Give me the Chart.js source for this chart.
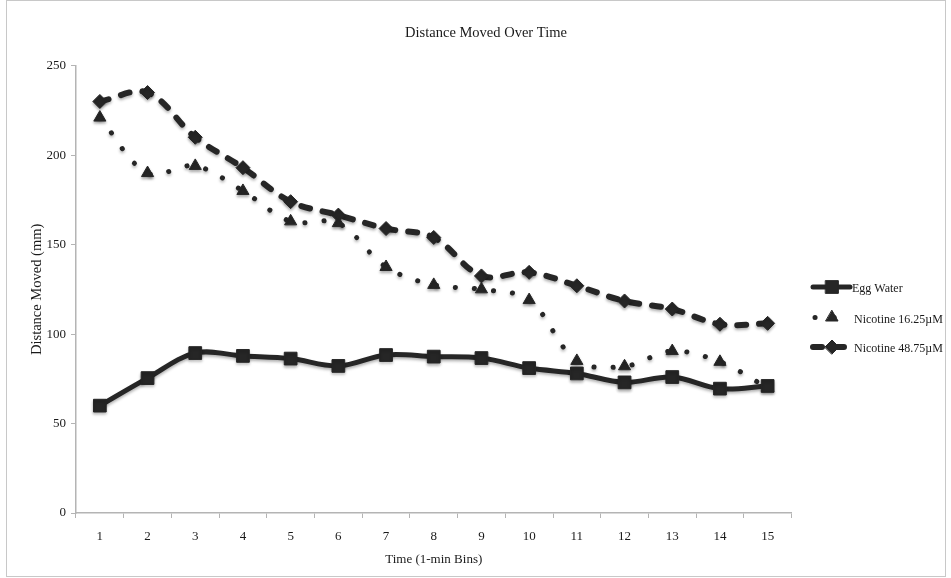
<!DOCTYPE html>
<html>
<head>
<meta charset="utf-8">
<title>Distance Moved Over Time</title>
<script src="https://cdn.jsdelivr.net/npm/chart.js@4.4.1/dist/chart.umd.min.js"></script>
<style>
    html, body { margin: 0; padding: 0; background: #ffffff; }
    #wrap { width: 951px; height: 578px; }
</style>
</head>
<body>
<div id="wrap"><canvas id="lineChart" width="951" height="578"></canvas></div>
<script>
// Data
const timeBins = ['1', '2', '3', '4', '5', '6', '7', '8', '9', '10', '11', '12', '13', '14', '15'];
const eggWater = [60, 75.4, 89.4, 87.8, 86.3, 82.2, 88.3, 87.4, 86.6, 81, 78, 73, 76, 69.5, 71];
const nicotineLow = [221, 190, 194, 180, 163, 162, 137.5, 127.5, 125, 119, 85, 82, 90.5, 84.5, 70];
const nicotineHigh = [230, 235, 210, 193, 174, 166.5, 159, 154, 132.5, 134.5, 127, 118.5, 114, 105.5, 106];
const yTicks = [0, 50, 100, 150, 200, 250];

const ink = '#262626';
const serif = "'Liberation Serif', 'Times New Roman', serif";

// Title, legend and frame drawn by hand so they sit where Excel put them
const decorPlugin = {
    id: 'decor',
    beforeDatasetsDraw(chart) {
        const ctx = chart.ctx;
        ctx.save();
        ctx.shadowColor = 'rgba(0, 0, 0, 0.3)';
        ctx.shadowBlur = 3;
        ctx.shadowOffsetY = 2;
    },
    afterDatasetsDraw(chart) {
        chart.ctx.restore();
    },
    afterDraw(chart) {
        const ctx = chart.ctx;
        ctx.save();

        // outer frame
        ctx.strokeStyle = '#c8c8c8';
        ctx.lineWidth = 1;
        ctx.strokeRect(6.5, 0.5, 939, 576);

        // title
        ctx.fillStyle = '#1a1a1a';
        ctx.font = '14.5px ' + serif;
        ctx.textAlign = 'center';
        ctx.textBaseline = 'middle';
        ctx.fillText('Distance Moved Over Time', 486, 33);

        // legend
        const rows = [287, 317.5, 347];
        chart.data.datasets.forEach((ds, i) => {
            const y = rows[i];
            ctx.save();
            ctx.strokeStyle = ds.borderColor;
            ctx.lineWidth = ds.borderWidth;
            ctx.lineCap = ds.borderCapStyle || 'butt';
            ctx.setLineDash(ds.borderDash || []);
            ctx.beginPath();
            ctx.moveTo(i === 1 ? 815 : 813, y);
            ctx.lineTo(850, y);
            ctx.stroke();
            ctx.setLineDash([]);
            ctx.fillStyle = ds.pointBackgroundColor;
            ctx.strokeStyle = ds.pointBorderColor;
            ctx.lineWidth = ds.pointBorderWidth;
            Chart.helpers.drawPoint(ctx, {
                pointStyle: ds.pointStyle,
                radius: ds.pointRadius,
                borderWidth: ds.pointBorderWidth,
                rotation: 0
            }, 832, y);
            ctx.restore();

            ctx.fillStyle = '#1a1a1a';
            ctx.font = '12px ' + serif;
            ctx.textAlign = 'left';
            ctx.textBaseline = 'middle';
            ctx.fillText(ds.label, i === 0 ? 852 : 854, y + 2);
        });
        ctx.restore();
    }
};

const ctx = document.getElementById('lineChart').getContext('2d');

new Chart(ctx, {
    type: 'line',
    data: {
        labels: timeBins,
        datasets: [
            {
                label: 'Egg Water',
                data: eggWater,
                borderColor: ink,
                borderWidth: 5,
                borderCapStyle: 'round',
                pointStyle: 'rect',
                pointRadius: 9,
                pointBorderWidth: 1,
                pointBackgroundColor: ink,
                pointBorderColor: ink,
                tension: 0.35
            },
            {
                label: 'Nicotine 16.25µM',
                data: nicotineLow,
                borderColor: ink,
                borderWidth: 5,
                borderCapStyle: 'round',
                borderDash: [0.1, 19],
                pointStyle: 'triangle',
                pointRadius: 7,
                pointBorderWidth: 1,
                pointBackgroundColor: ink,
                pointBorderColor: ink,
                tension: 0.35
            },
            {
                label: 'Nicotine 48.75µM',
                data: nicotineHigh,
                borderColor: ink,
                borderWidth: 6,
                borderCapStyle: 'round',
                borderDash: [9, 13],
                pointStyle: 'rectRot',
                pointRadius: 7,
                pointBorderWidth: 1,
                pointBackgroundColor: ink,
                pointBorderColor: ink,
                tension: 0.35
            }
        ]
    },
    options: {
        responsive: false,
        devicePixelRatio: 1,
        animation: false,
        layout: {
            padding: { left: 16, right: 159.5, top: 65.7, bottom: 0 }
        },
        scales: {
            x: {
                offset: true,
                afterFit: scale => { scale.height = 65; },
                grid: {
                    drawOnChartArea: false,
                    offset: true,
                    tickLength: 5,
                    color: '#b4b4b4'
                },
                border: { color: '#b4b4b4', width: 1.5 },
                ticks: {
                    color: '#1a1a1a',
                    font: { family: serif, size: 13 },
                    padding: 11,
                    maxRotation: 0
                },
                title: {
                    display: true,
                    text: 'Time (1-min Bins)',
                    color: '#1a1a1a',
                    font: { family: serif, size: 13 },
                    padding: { top: 4, bottom: 11 }
                }
            },
            y: {
                min: 0,
                max: 250,
                afterFit: scale => { scale.width = 60; },
                afterBuildTicks: scale => {
                    scale.ticks = yTicks.map(v => ({ value: v }));
                },
                grid: {
                    drawOnChartArea: false,
                    tickLength: 5,
                    color: '#b4b4b4'
                },
                border: { color: '#b4b4b4', width: 1.5 },
                ticks: {
                    color: '#1a1a1a',
                    font: { family: serif, size: 13 },
                    padding: 5
                },
                title: {
                    display: true,
                    text: 'Distance Moved (mm)',
                    color: '#1a1a1a',
                    font: { family: serif, size: 14.5 },
                    padding: { top: 12, bottom: 4 }
                }
            }
        },
        plugins: {
            legend: { display: false },
            title: { display: false },
            tooltip: { enabled: false }
        }
    },
    plugins: [decorPlugin]
});
</script>
</body>
</html>
